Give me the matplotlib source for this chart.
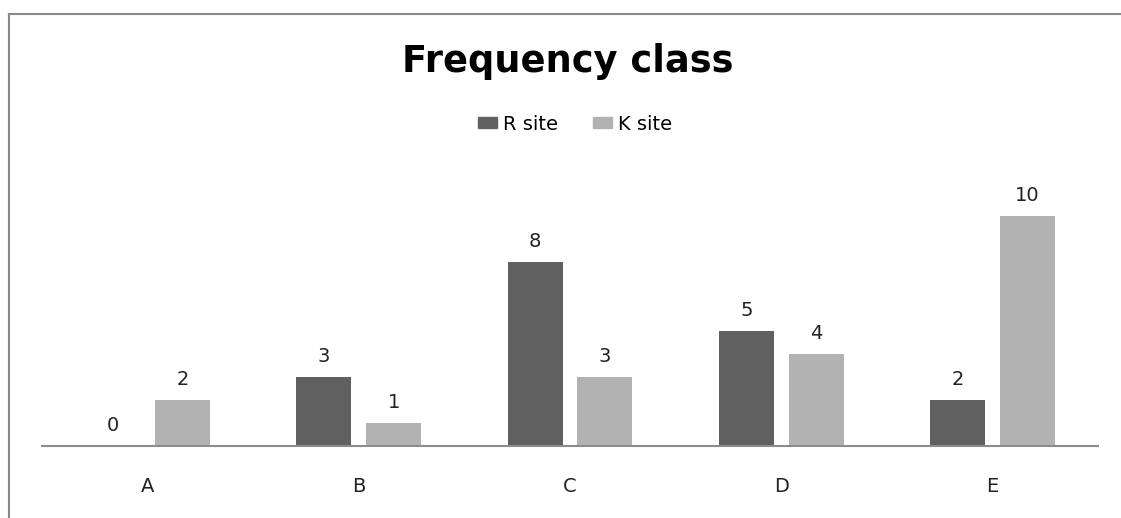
import matplotlib
matplotlib.use("Agg")
import matplotlib.pyplot as plt
import numpy as np
from matplotlib.lines import Line2D
from matplotlib.patches import Patch

categories = ["A", "B", "C", "D", "E"]
r_site = [0, 3, 8, 5, 2]
k_site = [2, 1, 3, 4, 10]
series_names = ["R site", "K site"]

W, H = 1121, 518
fig = plt.figure(figsize=(W / 100, H / 100), dpi=100)

# axes: x from 42 to 1098 px, baseline at y=446, value 10 at y=216
ymax = 12
px_per_unit = 23.0
ax_top_px = 446 - ymax * px_per_unit
ax = fig.add_axes([42 / W, (H - 446) / H, (1098 - 42) / W, (446 - ax_top_px) / H])

x = np.arange(len(categories))
bw = 0.26
off = 0.165
c_r, c_k = "#606060", "#b2b2b2"
b1 = ax.bar(x - off, r_site, bw, color=c_r)
b2 = ax.bar(x + off, k_site, bw, color=c_k)

for bars, vals in ((b1, r_site), (b2, k_site)):
    for rect, v in zip(bars, vals):
        ax.annotate(str(v), (rect.get_x() + rect.get_width() / 2, v),
                    xytext=(0, 8), textcoords="offset points",
                    ha="center", va="bottom", fontsize=14, color="#222222",
                    family="DejaVu Sans")

ax.set_xlim(-0.5, 4.5)
ax.set_ylim(0, ymax)
ax.set_xticks(x)
ax.set_xticklabels(categories, fontsize=14, family="DejaVu Sans", color="#222222")
ax.tick_params(axis="x", length=0, pad=22)
ax.set_yticks([])
for s in ("top", "right", "left"):
    ax.spines[s].set_visible(False)
ax.spines["bottom"].set_color("#8c8c8c")
ax.spines["bottom"].set_linewidth(1.5)

fig.text(568 / W, 1 - 61 / H, "Frequency class", ha="center", va="center",
         fontsize=26.5, fontweight="bold", family="DejaVu Sans", color="#000000")

handles = [Patch(color=c_r), Patch(color=c_k)]
fig.legend(handles, series_names, loc="center", bbox_to_anchor=(575 / W, 1 - 124 / H),
           ncol=2, frameon=False, handlelength=1.0, handleheight=0.55,
           handletextpad=0.3, columnspacing=1.8,
           prop={"family": "DejaVu Sans", "size": 14})

# outer frame (left and top visible)
fig.add_artist(Line2D([8.5 / W, 8.5 / W], [0, 1 - 13.5 / H], transform=fig.transFigure,
                      color="#8a8a8a", lw=1.5))
fig.add_artist(Line2D([8.5 / W, 1], [1 - 13.5 / H, 1 - 13.5 / H], transform=fig.transFigure,
                      color="#8a8a8a", lw=1.5))

fig.savefig("out.png", dpi=100)
